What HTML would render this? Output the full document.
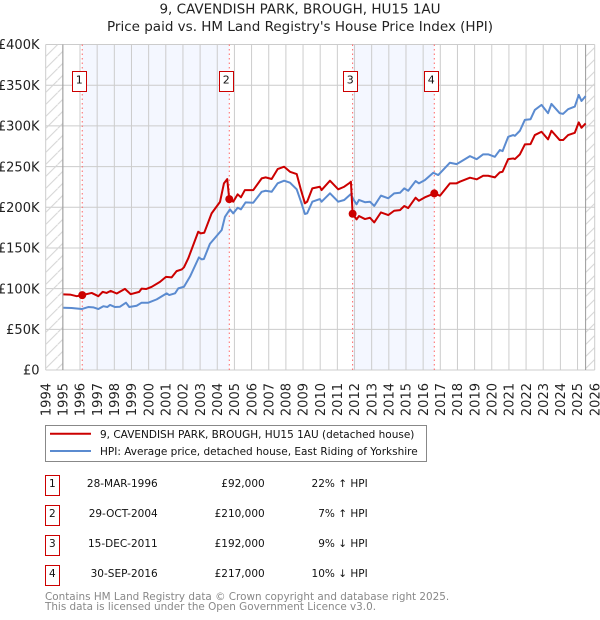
<!DOCTYPE html>
<html lang="en">
<head>
<meta charset="utf-8">
<title>9, Cavendish Park, Brough price chart</title>
<style>
html,body{margin:0;padding:0;background:#fff;width:600px;height:620px;overflow:hidden}
svg{display:block;font-family:"DejaVu Sans",sans-serif}
</style>
</head>
<body>
<svg id="chart" xmlns="http://www.w3.org/2000/svg" width="600" height="620" viewBox="0 0 600 620">
<defs>
<pattern id="hatch" patternUnits="userSpaceOnUse" width="12" height="12" patternTransform="translate(45.7 44.5)">
<path d="M-1 13L13 -1" stroke="#d4d4d4" stroke-width="1" fill="none"/>
</pattern>
</defs>
<text x="300" y="13.5" text-anchor="middle" font-size="13.5" fill="#222">9, CAVENDISH PARK, BROUGH, HU15 1AU</text>
<text x="300" y="31" text-anchor="middle" font-size="13.5" fill="#222">Price paid vs. HM Land Registry's House Price Index (HPI)</text>
<g id="plot"></g>

<g>
<rect x="45.5" y="425.5" width="381" height="36" fill="#fff" stroke="#888" stroke-width="1"/>
<line x1="50" x2="91" y1="433.7" y2="433.7" stroke="#cc0000" stroke-width="2"/>
<text x="100" y="438" font-size="10.5" fill="#111">9, CAVENDISH PARK, BROUGH, HU15 1AU (detached house)</text>
<line x1="50" x2="91" y1="451" y2="451" stroke="#5b8bd0" stroke-width="2"/>
<text x="100" y="455" font-size="10.5" fill="#111">HPI: Average price, detached house, East Riding of Yorkshire</text>
</g>

<g font-size="10.5" fill="#111">
<g>
<rect x="45.5" y="475.5" width="14" height="20" fill="#fff" stroke="#c00" stroke-width="1"/>
<text x="52.3" y="487" text-anchor="middle">1</text>
<text x="157.7" y="487" text-anchor="end">28-MAR-1996</text>
<text x="264.7" y="487" text-anchor="end">£92,000</text>
<text x="367.7" y="487" text-anchor="end">22% ↑ HPI</text>
</g>
<g>
<rect x="45.5" y="505.5" width="14" height="20" fill="#fff" stroke="#c00" stroke-width="1"/>
<text x="52.3" y="517" text-anchor="middle">2</text>
<text x="157.7" y="517" text-anchor="end">29-OCT-2004</text>
<text x="264.7" y="517" text-anchor="end">£210,000</text>
<text x="367.7" y="517" text-anchor="end">7% ↑ HPI</text>
</g>
<g>
<rect x="45.5" y="535.5" width="14" height="20" fill="#fff" stroke="#c00" stroke-width="1"/>
<text x="52.3" y="547" text-anchor="middle">3</text>
<text x="157.7" y="547" text-anchor="end">15-DEC-2011</text>
<text x="264.7" y="547" text-anchor="end">£192,000</text>
<text x="367.7" y="547" text-anchor="end">9% ↓ HPI</text>
</g>
<g>
<rect x="45.5" y="565.5" width="14" height="20" fill="#fff" stroke="#c00" stroke-width="1"/>
<text x="52.3" y="577" text-anchor="middle">4</text>
<text x="157.7" y="577" text-anchor="end">30-SEP-2016</text>
<text x="264.7" y="577" text-anchor="end">£217,000</text>
<text x="367.7" y="577" text-anchor="end">10% ↓ HPI</text>
</g>
</g>

<text x="45" y="600" font-size="10.4" fill="#888">Contains HM Land Registry data © Crown copyright and database right 2025.</text>
<text x="45" y="610" font-size="10.4" fill="#888">This data is licensed under the Open Government Licence v3.0.</text>
</svg>

<script>
var yearLabels = [1994,1995,1996,1997,1998,1999,2000,2001,2002,2003,2004,2005,2006,2007,2008,2009,2010,2011,2012,2013,2014,2015,2016,2017,2018,2019,2020,2021,2022,2023,2024,2025,2026];
var priceTicks = [0,50,100,150,200,250,300,350,400];
var priceTickLabels = ['£0','£50K','£100K','£150K','£200K','£250K','£300K','£350K','£400K'];

var hpiDates = [1995.03,1995.51,1996.1,1996.48,1996.77,1997.07,1997.36,1997.59,1997.75,1998.04,1998.33,1998.68,1998.87,1999.3,1999.59,1999.98,2000.47,2001.05,2001.2,2001.54,2001.73,2002.06,2002.41,2002.93,2003.09,2003.22,2003.57,2004.26,2004.45,2004.74,2004.93,2005.19,2005.38,2005.65,2006.1,2006.59,2006.82,2007.17,2007.52,2007.9,2008.24,2008.63,2008.88,2009.11,2009.24,2009.54,2009.98,2010.08,2010.57,2011.05,2011.4,2011.79,2011.93,2012.12,2012.26,2012.61,2012.9,2013.15,2013.54,2013.97,2014.31,2014.65,2014.9,2015.13,2015.56,2015.75,2016.1,2016.59,2016.88,2017.56,2017.95,2018.14,2018.73,2019.12,2019.5,2019.79,2020.18,2020.47,2020.63,2020.96,2021.25,2021.35,2021.64,2021.93,2022.26,2022.51,2022.9,2023.28,2023.48,2023.96,2024.16,2024.45,2024.84,2025.07,2025.23,2025.47];
var hpiValues = [76.5,76.2,74.9,77.4,77,74.9,78.4,77.4,79.9,77.4,77.8,82.7,77.4,79,82.7,82.7,86.8,94.2,92.1,94.2,100.3,102.3,114.7,138.4,136,136.4,155,172,188.3,197.4,192.5,199.4,197.4,206,205.6,219,220.3,219,229.4,232.6,230.2,222,206.8,191.7,192.5,206.8,210.1,206.8,217.1,206.8,208.9,216.3,209.8,203.6,209,206.2,206.8,201.6,214.3,211,217.1,217.8,223.2,220.3,232.2,229.4,233.4,242.4,239.6,254.7,253,255.3,262.8,259.1,265,265,262,270.3,269,286.6,288.7,287.8,294,307.4,308.2,319.6,325.8,315.6,327,315.6,314.8,320.5,323.7,338,330.6,336.6];

var paidDates = [1995.03,1995.42,1995.81,1996.13,1996.68,1997.07,1997.32,1997.55,1997.79,1998.14,1998.62,1998.95,1999.45,1999.59,1999.85,2000.18,2000.66,2001.01,2001.34,2001.63,2001.93,2002.06,2002.31,2002.89,2003.03,2003.24,2003.67,2004.16,2004.39,2004.58,2004.7,2004.74,2004.93,2005.19,2005.38,2005.61,2006.1,2006.59,2006.82,2007.17,2007.52,2007.9,2008.24,2008.63,2008.88,2009.11,2009.24,2009.54,2009.98,2010.08,2010.57,2011.05,2011.4,2011.68,2011.79,2011.89,2012.12,2012.26,2012.61,2012.9,2013.15,2013.54,2013.97,2014.31,2014.65,2014.9,2015.13,2015.56,2015.75,2016.1,2016.65,2016.98,2017.56,2017.95,2018.14,2018.73,2019.12,2019.5,2019.79,2020.18,2020.47,2020.63,2020.96,2021.25,2021.35,2021.64,2021.93,2022.26,2022.51,2022.9,2023.28,2023.48,2023.96,2024.16,2024.45,2024.84,2025.07,2025.23,2025.47];
var paidValues = [93,92.7,90.7,92,94.7,90.7,96,94.7,97.2,94,99.7,93.2,96,100,99.5,102.2,108.3,114.5,113.8,121.5,123.6,126.2,137.2,169.9,167.9,168.6,192.5,206.6,229.4,234.6,210,209.7,206.8,215.9,212.2,221.1,221.1,235.5,236.7,234.7,246.9,249.8,243.6,240.8,221.1,204.8,206.8,223.2,225.2,221.1,232.6,222,225.2,229.4,231.4,192,185.1,189.2,185.5,187.1,181.4,193.7,190.4,195.7,196.5,201.5,199,211.7,208,212.2,217,214.2,229.4,229.4,231.4,236.3,234.3,238.7,238.7,236.7,242.9,243.6,259.2,260,259.2,265,277.2,277.6,288.7,292.8,283.4,294,282.6,282.6,288.7,291.5,304.3,297.7,303];

var saleNumbers = ['1','2','3','4'];
var saleDates = [1996.13,2004.70,2011.89,2016.65];
var salePrices = [92,210,192,217];
var lastDataDate = 2025.47;

var NS = 'http://www.w3.org/2000/svg';
var plot = document.getElementById('plot');
var TOP = 44.5, BOTTOM = 370, LEFT = 45.7, RIGHT = 594.7;
function x(d){ return LEFT + (d - 1994) * (RIGHT - LEFT) / 32; }
function y(v){ return BOTTOM - v * (BOTTOM - TOP) / 400; }
function make(tag, attrs){
  var el = document.createElementNS(NS, tag);
  for (var k in attrs) el.setAttribute(k, attrs[k]);
  plot.appendChild(el);
  return el;
}
function linePath(dates, values){
  var d = '';
  for (var i = 0; i < dates.length; i++) d += (i ? 'L' : 'M') + x(dates[i]).toFixed(2) + ' ' + y(values[i]).toFixed(2);
  return d;
}

// shaded ownership bands
[[0,1],[2,3]].forEach(function(pair){
  var el = make('rect', {x:x(saleDates[pair[0]]), y:TOP, width:x(saleDates[pair[1]])-x(saleDates[pair[0]]), height:BOTTOM-TOP, fill:'#f4f7ff'});
  
  
});

// grid
yearLabels.forEach(function(yr){
  var el = make('line', {x1:x(yr), x2:x(yr), y1:TOP, y2:BOTTOM, stroke:'#ccc', 'stroke-width':1});
  
  
  var t = make('text', {transform:'translate(' + (x(yr)+4.7) + ' 383) rotate(-90)', 'text-anchor':'end', 'font-size':13, fill:'#222'});
  t.textContent = yr;
  
  
});
priceTicks.forEach(function(v, i){
  var el = make('line', {x1:LEFT, x2:RIGHT, y1:y(v), y2:y(v), stroke:'#ccc', 'stroke-width':1});
  
  
  var t = make('text', {x:39.5, y:y(v)+4.7, 'text-anchor':'end', 'font-size':13, fill:'#222'});
  t.textContent = priceTickLabels[i];
  
  
});

// hatched no-data regions
var hatchLeft = make('rect', {x:LEFT, y:TOP, width:x(1995)-LEFT, height:BOTTOM-TOP, fill:'url(#hatch)'});


var hatchRight = make('rect', {x:x(lastDataDate), y:TOP, width:RIGHT-x(lastDataDate), height:BOTTOM-TOP, fill:'url(#hatch)'});


var edgeLeft = make('line', {x1:x(1995), x2:x(1995), y1:TOP, y2:BOTTOM, stroke:'#999', 'stroke-width':1});


var edgeRight = make('line', {x1:x(lastDataDate), x2:x(lastDataDate), y1:TOP, y2:BOTTOM, stroke:'#999', 'stroke-width':1});



// sale reference lines
saleDates.forEach(function(d){
  var el = make('line', {x1:x(d), x2:x(d), y1:TOP, y2:BOTTOM, stroke:'#ff6666', 'stroke-width':1, 'stroke-dasharray':'1.5 3'});
  
  
});

// series
var hpiLine = make('path', {d:linePath(hpiDates, hpiValues), fill:'none', stroke:'#5b8bd0', 'stroke-width':2, 'stroke-linejoin':'round'});


var paidLine = make('path', {d:linePath(paidDates, paidValues), fill:'none', stroke:'#cc0000', 'stroke-width':2, 'stroke-linejoin':'round'});



// sale markers and number boxes
saleDates.forEach(function(d, i){
  var c = make('circle', {cx:x(d), cy:y(salePrices[i]), r:4, fill:'#cc0000'});
  
  
  var b = make('rect', {x:Math.round(x(d)-10)+0.5, y:71.5, width:14, height:20, fill:'#fff', stroke:'#c00', 'stroke-width':1});
  
  
  var t = make('text', {x:Math.round(x(d)-10)+7.3, y:83.5, 'text-anchor':'middle', 'font-size':11, fill:'#111'});
  t.textContent = saleNumbers[i];
  
  
});
</script>
</body>
</html>
